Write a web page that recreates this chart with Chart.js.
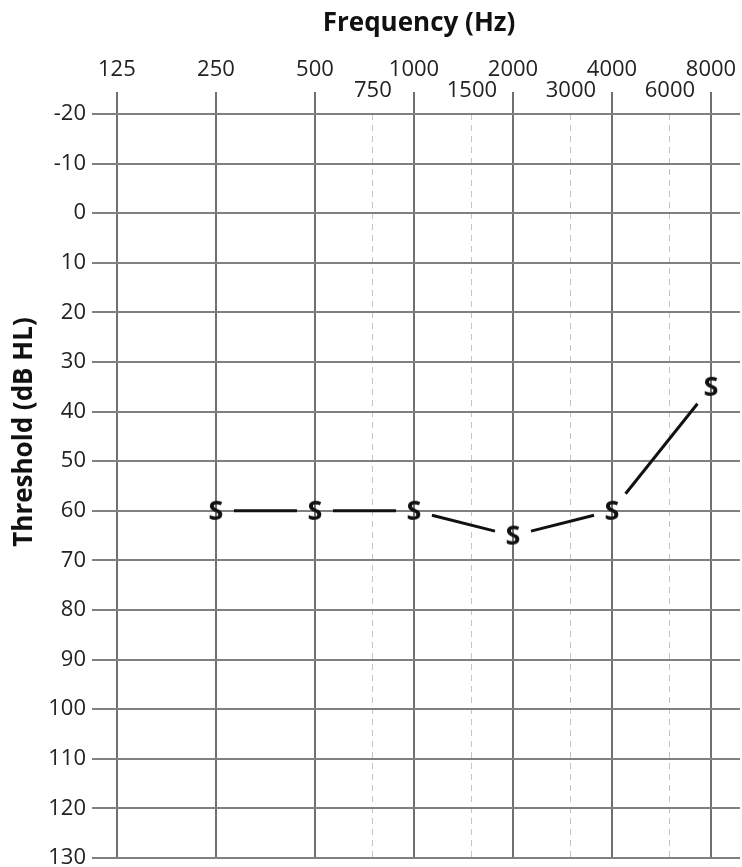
<!DOCTYPE html>
<html>
<head>
<meta charset="utf-8">
<script src="https://cdn.jsdelivr.net/npm/chart.js@4/dist/chart.umd.min.js"></script>
<style>
  html, body { margin: 0; padding: 0; background: #fff; }
  #wrap { width: 742px; height: 867px; position: relative; }
</style>
</head>
<body>
<div id="wrap"><canvas id="chart"></canvas></div>
<script>
// audiogram values
const octaveFreqs = [125, 250, 500, 1000, 2000, 4000, 8000];
const midFreqs = [750, 1500, 3000, 6000];
const testFreqs = [250, 500, 1000, 2000, 4000, 8000];
const thresholds = [60, 60, 60, 65, 60, 35];
const dbTicks = [-20, -10, 0, 10, 20, 30, 40, 50, 60, 70, 80, 90, 100, 110, 120, 130];

const FONT = "'Open Sans', 'Noto Sans', sans-serif";
const isMid = (v) => midFreqs.includes(v);

// "S" marker drawn once on a small canvas
function makeMarker() {
  const c = document.createElement('canvas');
  c.width = 34; c.height = 34;
  const g = c.getContext('2d');
  g.fillStyle = '#111';
  g.font = `bold 27px ${FONT}`;
  g.textAlign = 'center';
  g.textBaseline = 'middle';
  g.fillText('S', 17, 18);
  return c;
}

// lines between markers, stopped short of each S
const gapLines = {
  id: 'gapLines',
  afterDatasetsDraw(chart) {
    const pts = chart.getDatasetMeta(0).data;
    const ctx = chart.ctx;
    const hw = 18, hh = 17;
    ctx.save();
    ctx.strokeStyle = '#111';
    ctx.lineWidth = 3;
    for (let i = 0; i < pts.length - 1; i++) {
      const a = pts[i], b = pts[i + 1];
      const dx = b.x - a.x, dy = b.y - a.y;
      const t = Math.min(hw / Math.abs(dx || 1e-6), hh / Math.abs(dy || 1e-6));
      ctx.beginPath();
      ctx.moveTo(a.x + dx * t, a.y + dy * t);
      ctx.lineTo(b.x - dx * t, b.y - dy * t);
      ctx.stroke();
    }
    ctx.restore();
  }
};

const yTitle = {
  id: 'yTitle',
  afterDraw(chart) {
    const ctx = chart.ctx;
    ctx.save();
    ctx.translate(25, 432);
    ctx.rotate(-Math.PI / 2);
    ctx.fillStyle = '#111';
    ctx.font = `bold 26px ${FONT}`;
    ctx.textAlign = 'center';
    ctx.textBaseline = 'middle';
    ctx.fillText('Threshold (dB HL)', 0, 0);
    ctx.restore();
  }
};

new Chart(document.getElementById('chart'), {
  type: 'line',
  data: {
    datasets: [{
      data: testFreqs.map((f, i) => ({ x: f, y: thresholds[i] })),
      showLine: false,
      pointStyle: makeMarker(),
      pointRadius: 17,
      pointHoverRadius: 17,
    }]
  },
  plugins: [gapLines, yTitle],
  options: {
    responsive: true,
    maintainAspectRatio: false,
    animation: false,
    events: [],
    layout: { autoPadding: false, padding: { left: 0, right: 2, top: 0, bottom: 9 } },
    plugins: { legend: { display: false }, tooltip: { enabled: false } },
    scales: {
      x: {
        type: 'logarithmic',
        position: 'top',
        min: 109.5,
        max: 9800,
        afterBuildTicks: (s) => { s.ticks = [...octaveFreqs, ...midFreqs].sort((a, b) => a - b).map((v) => ({ value: v })); },
        afterFit: (s) => { s.height = 114; s.paddingLeft = 0; s.paddingRight = 0; },
        ticks: {
          autoSkip: false,
          maxRotation: 0,
          minRotation: 0,
          padding: -9.5,
          color: '#222',
          font: { family: FONT, size: 22, lineHeight: '21px' },
          callback: (v) => isMid(v) ? String(v) : [String(v), ''],
        },
        grid: {
          tickLength: 22,
          color: (c) => c.tick && isMid(c.tick.value) ? '#c4c4c4' : '#707070',
          lineWidth: (c) => c.tick && isMid(c.tick.value) ? 1 : 2,
          tickColor: (c) => c.tick && isMid(c.tick.value) ? 'rgba(0,0,0,0)' : '#707070',
          tickWidth: 2,
        },
        border: {
          display: false,
          dash: (c) => c.tick && isMid(c.tick.value) ? [6, 5] : [],
        },
        title: {
          display: true,
          text: 'Frequency (Hz)',
          color: '#111',
          font: { family: FONT, size: 26, weight: 'bold' },
          padding: { top: 8, bottom: 0 },
        },
      },
      y: {
        type: 'linear',
        reverse: true,
        min: -20,
        max: 130,
        afterBuildTicks: (s) => { s.ticks = dbTicks.map((v) => ({ value: v })); },
        afterFit: (s) => { s.width = 98; s.paddingTop = 0; s.paddingBottom = 0; },
        ticks: {
          padding: 6,
          color: '#222',
          font: { family: FONT, size: 22 },
        },
        grid: {
          tickLength: 6,
          color: '#808080',
          lineWidth: 2,
          tickColor: '#808080',
          tickWidth: 2,
        },
        border: { display: false },
      },
    },
  },
});
</script>
</body>
</html>
